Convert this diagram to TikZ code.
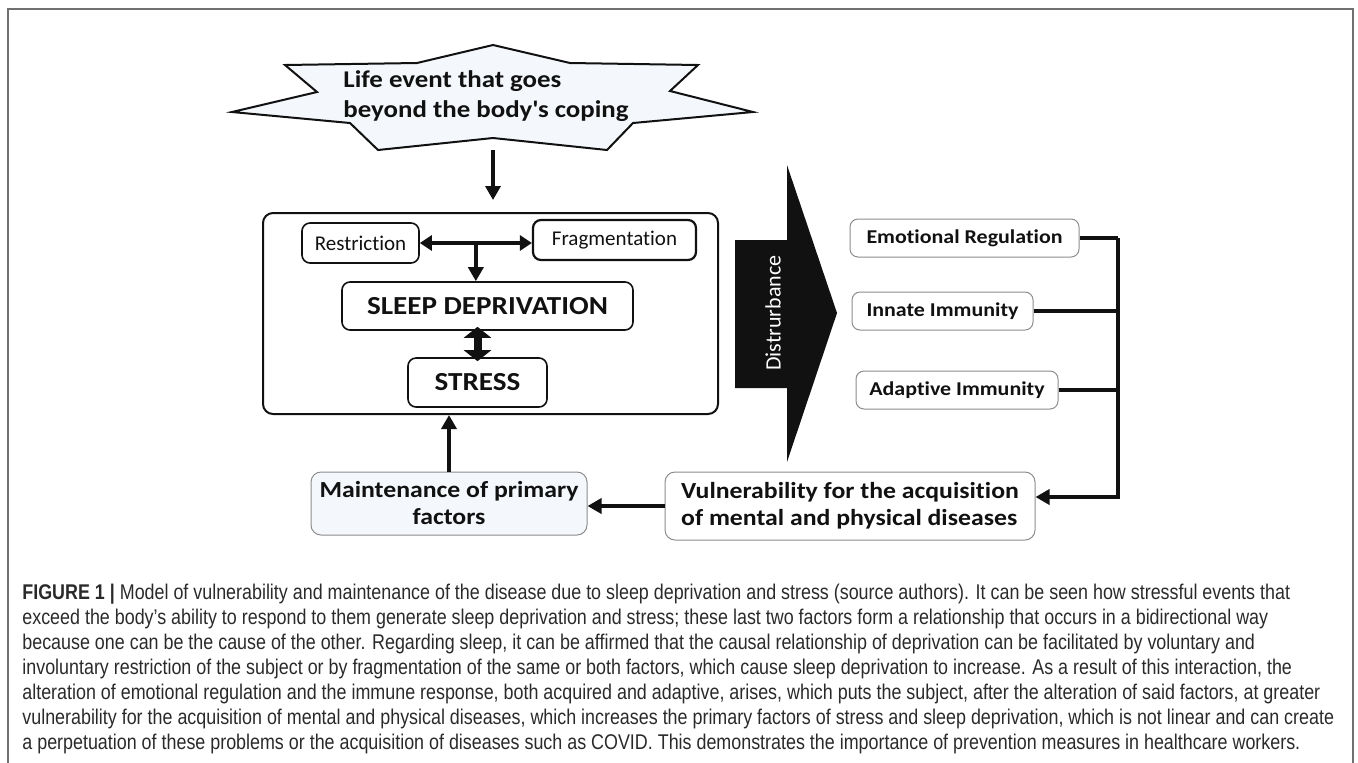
\documentclass[tikz,border=0pt]{standalone}
\usepackage{fontspec}
\setmainfont{Carlito}[Ligatures=NoCommon,BoldFeatures={FakeStretch=1.12}]
\newfontfamily\capfont[FakeStretch=0.84]{Liberation Sans}
\usetikzlibrary{arrows.meta,positioning,calc}
\definecolor{Ink}{HTML}{111111}
\definecolor{Edge}{HTML}{8C8C8C}
\definecolor{Frame}{HTML}{707070}
\definecolor{Mist}{HTML}{F4F8FC}
\definecolor{CapInk}{HTML}{2A2A2A}
\tikzset{
  corebox/.style={draw=Ink,line width=1pt,rounded corners=5pt,minimum width=227.5pt,minimum height=100.5pt,inner sep=0pt},
  inbox/.style={draw=Ink,line width=0.8pt,rounded corners=4pt,align=center,font=\fontsize{10.5}{12}\selectfont,text=Ink,inner sep=0pt},
  bigbox/.style={inbox,font=\fontsize{13}{15}\selectfont\bfseries},
  sidebox/.style={draw=Edge,line width=0.5pt,rounded corners=4pt,align=center,font=\fontsize{9.8}{12}\selectfont\bfseries,text=Ink,inner sep=0pt,minimum height=19pt},
  lowbox/.style={draw=Edge,line width=0.5pt,rounded corners=5pt,font=\fontsize{11.5}{13.5}\selectfont\bfseries,text=Ink,inner sep=0pt},
  arr/.style={-{Triangle[length=7pt,width=7.5pt]},draw=Ink,line width=2pt},
  dblarr/.style={{Triangle[length=6pt,width=7.5pt]}-{Triangle[length=6pt,width=7.5pt]},draw=Ink,line width=2pt},
  fatarr/.style={{Triangle[length=5.5pt,width=13.5pt]}-{Triangle[length=5.5pt,width=13.5pt]},draw=Ink,line width=4pt,shorten <=-2pt,shorten >=-2pt},
  bus/.style={draw=Ink,line width=1.6pt}
}

\begin{document}
\begin{tikzpicture}[x=0.5pt,y=-0.5pt]
  \useasboundingbox (0,0) rectangle (1358,762);
  \draw[Frame,line width=0.8pt] (8,780) -- (8,9) -- (1353,9) -- (1353,780);

  % trigger
  \draw[Ink,line width=1pt,fill=Mist] (285,65) -- (417,63) -- (493,45) -- (570,63) -- (698,65) -- (670,91)
    -- (753,112) -- (633,123) -- (607,150) -- (493,138) -- (378,150) -- (350,123) -- (232,112) -- (317,92) -- cycle;
  \node[align=left,font=\fontsize{12}{15}\selectfont\bfseries,text=Ink] (event) at (486,96)
    {Life event that goes\\beyond the body\textquotesingle s coping};
  \coordinate (eventfoot) at (493,150);

  % sleep block
  \node[corebox] (core) at (490.5,313.5) {};
  \node[inbox,minimum width=58.5pt,minimum height=20pt] (restr) at (360.5,243) {Restriction};
  \node[inbox,line width=1.1pt,minimum width=81.5pt,minimum height=20pt] (frag) at (614.5,240) {Fragmentation};
  \node[bigbox,minimum width=145.5pt,minimum height=24pt] (sleep) at (487.5,306) {SLEEP DEPRIVATION};
  \node[bigbox,minimum width=69.5pt,minimum height=24.5pt] (stress) at (477.5,382.5) {STRESS};
  \coordinate (fork) at ($(restr.east)!0.5!(frag.west)$);

  \draw[arr,shorten >=6pt] (eventfoot) -- (eventfoot |- core.north);
  \draw[dblarr] (restr.east) -- (restr.east -| frag.west);
  \draw[arr] (fork) -- (fork |- sleep.north);
  \draw[fatarr] (stress.north |- sleep.south) -- (stress.north);

  % disturbance
  \fill[Ink] (735,240) -- (787,240) -- (787,165) -- (837,313) -- (787,462) -- (787,388) -- (735,388) -- cycle;
  \node[rotate=90,text=white,font=\fontsize{11}{13}\selectfont] (dist) at (773,313) {Distrurbance};

  % effects
  \node[sidebox,minimum width=114.5pt] (emo) at (964.5,238) {Emotional Regulation};
  \node[sidebox,minimum width=90.5pt] (innate) at (942.5,311) {Innate Immunity};
  \node[sidebox,minimum width=101pt] (adapt) at (957,390) {Adaptive Immunity};
  \coordinate (bustop) at (1118,238);
  \coordinate (busfoot) at (1118,497);

  \node[lowbox,fill=white,align=left,minimum width=185pt,minimum height=34pt] (vuln) at (850,506)
    {Vulnerability for the acquisition\\of mental and physical diseases};
  \node[lowbox,fill=Mist,align=center,minimum width=138pt,minimum height=31.5pt] (maint) at (449,503.5)
    {Maintenance of primary\\factors};

  \draw[bus] (emo.east) -- (bustop);
  \draw[bus] (innate.east) -- (innate.east -| bustop);
  \draw[bus] (adapt.east) -- (adapt.east -| bustop);
  \draw[bus,arr] (bustop) -- (busfoot) -- (busfoot -| vuln.east);
  \draw[arr] (vuln.west) -- (vuln.west -| maint.east);
  \draw[arr] (maint.north) -- (maint.north |- core.south);

  % caption
  \node[anchor=north west,inner sep=0pt,align=left,text=CapInk,font=\capfont\fontsize{10.65}{12.5}\selectfont] (caption) at (22,584)
    {\textbf{FIGURE 1 |} Model of vulnerability and maintenance of the disease due to sleep deprivation and stress (source authors). It can be seen how stressful events that\\
     exceed the body’s ability to respond to them generate sleep deprivation and stress; these last two factors form a relationship that occurs in a bidirectional way\\
     because one can be the cause of the other. Regarding sleep, it can be affirmed that the causal relationship of deprivation can be facilitated by voluntary and\\
     involuntary restriction of the subject or by fragmentation of the same or both factors, which cause sleep deprivation to increase. As a result of this interaction, the\\
     alteration of emotional regulation and the immune response, both acquired and adaptive, arises, which puts the subject, after the alteration of said factors, at greater\\
     vulnerability for the acquisition of mental and physical diseases, which increases the primary factors of stress and sleep deprivation, which is not linear and can create\\
     a perpetuation of these problems or the acquisition of diseases such as COVID. This demonstrates the importance of prevention measures in healthcare workers.};
\end{tikzpicture}
\end{document}
